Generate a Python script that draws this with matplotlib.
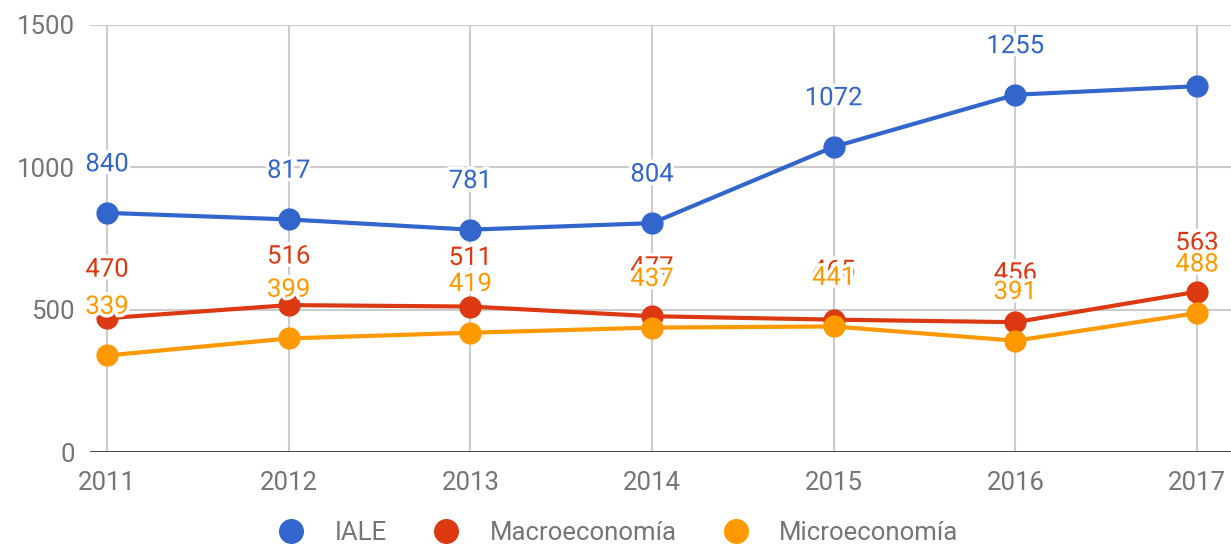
import matplotlib.pyplot as plt
import matplotlib.patheffects as pe
from matplotlib.lines import Line2D

# data
years = [2011, 2012, 2013, 2014, 2015, 2016, 2017]
iale = [840, 817, 781, 804, 1072, 1255, 1285]
macro = [470, 516, 511, 477, 465, 456, 563]
micro = [339, 399, 419, 437, 441, 391, 488]
# last IALE label is not shown in the original
iale_labels = [True, True, True, True, True, True, False]

series = [
    ("IALE", iale, "#3366cc"),
    ("Macroeconomía", macro, "#dc3912"),
    ("Microeconomía", micro, "#ff9900"),
]

plt.rcParams['font.family'] = ['Roboto', 'DejaVu Sans']
FS = 18.5

fig = plt.figure(figsize=(12.31, 5.46), dpi=100)
ax = fig.add_axes([90 / 1231, 94 / 546, 1 - 90 / 1231, 427 / 546])

# grid
for v in [500, 1000, 1500]:
    ax.axhline(v, color="#cccccc", lw=1.5, zorder=0)
for y in years:
    ax.axvline(y, color="#cccccc", lw=1.5, zorder=0)
ax.axhline(0, color="#333333", lw=2, zorder=1)

for name, vals, col in series:
    ax.plot(years, vals, color=col, lw=3, marker="o", ms=15, zorder=3,
            solid_capstyle="round")

# point labels, white halo
halo = [pe.withStroke(linewidth=5, foreground="white")]
for name, vals, col in series:
    for i, (x, v) in enumerate(zip(years, vals)):
        if name == "IALE" and not iale_labels[i]:
            continue
        ax.annotate(str(v), (x, v), xytext=(0, 35), textcoords="offset points",
                    ha="center", va="center", fontsize=FS, color=col,
                    path_effects=halo, zorder=5)

ax.set_xlim(2010.906, 2017.187)
ax.set_ylim(0, 1500)
ax.set_yticks([0, 500, 1000, 1500])
ax.set_xticks(years)
ax.tick_params(length=0, labelsize=FS, labelcolor="#757575")
ax.tick_params(axis="x", pad=14)
ax.tick_params(axis="y", pad=11)
for s in ax.spines.values():
    s.set_visible(False)

handles = [Line2D([], [], ls="none", marker="o", ms=17, color=c) for _, _, c in series]
fig.legend(handles, [n for n, _, _ in series], loc="center",
           bbox_to_anchor=(0.497, 13 / 546), ncol=3, frameon=False,
           fontsize=FS, labelcolor="#757575", handletextpad=0.7,
           columnspacing=1.3)

fig.savefig("out.png", dpi=100, facecolor="white")
